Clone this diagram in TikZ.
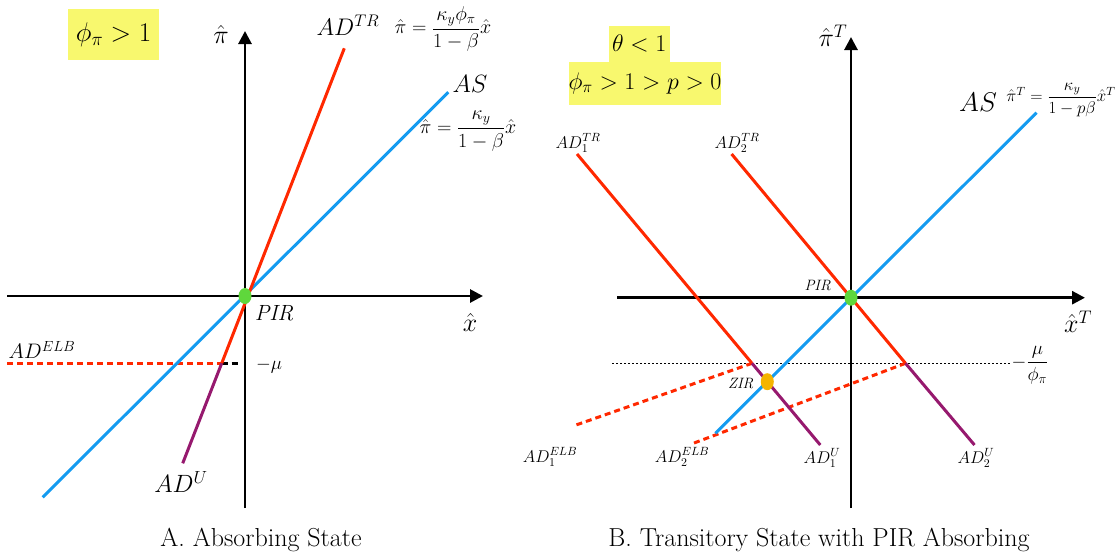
\RequirePackage{fix-cm}
\documentclass[tikz,border=0pt]{standalone}
\usepackage{amsmath}
\usetikzlibrary{arrows.meta}
\usetikzlibrary{positioning}

\definecolor{adred}{RGB}{255,40,0}
\definecolor{asblue}{RGB}{20,155,240}
\definecolor{adpurple}{RGB}{150,25,110}
\definecolor{pirgreen}{RGB}{95,215,60}
\definecolor{zirorange}{RGB}{245,180,0}
\definecolor{boxyellow}{RGB}{248,248,110}

\newcommand{\fsz}[1]{\fontsize{#1}{#1}\selectfont}

\tikzset{
  axis/.style={line width=2.8pt, -{Triangle[length=13pt, width=13pt]}},
  asline/.style={asblue, line width=3pt},
  trline/.style={adred, line width=3pt},
  uline/.style={adpurple, line width=3pt},
  elbline/.style={adred, line width=3pt, dash pattern=on 6pt off 4pt},
  mulevel/.style={line width=1pt, dash pattern=on 2pt off 2pt},
  lbl/.style={inner sep=0pt, font=\fsz{#1}},
  lbl/.default=24,
  ybox/.style={fill=boxyellow, inner sep=0pt, font=\fsz{#1}},
}

\begin{document}
\begin{tikzpicture}[x=1pt, y=-1pt]
\useasboundingbox (0,0) rectangle (1120,560);

% ---------- A. absorbing state ----------
\coordinate (pirA) at (245,296);
\coordinate (xAl) at (7,296);
\coordinate (xAr) at (483,296);
\coordinate (yAb) at (245,508);
\coordinate (yAt) at (245,31);

\draw[axis] (xAl) -- (xAr);
\draw[axis] (yAb) -- (yAt);

\coordinate (trTop) at (344.3,48.3);
\coordinate (trElb) at (221.7,363.3);
\coordinate (uBot) at (182.7,463.3);
\coordinate (asBot) at (42.7,497.3);
\coordinate (asTop) at (448.3,92.3);
\coordinate (elbL) at (7,363.3);
\coordinate (muA) at (238,363.3);

\draw[elbline] (elbL) -- (trElb);
\draw[line width=3pt, dash pattern=on 6pt off 4pt] (trElb) -- (muA);
\draw[asline] (asBot) -- (asTop);
\draw[trline] (trElb) -- (trTop);
\draw[uline] (trElb) -- (uBot);
\fill[pirgreen] (pirA) ellipse [x radius=6.5, y radius=8];

\node[ybox=27, minimum width=91pt, minimum height=51pt] (condA) at (113.5,34.5) {$\phi_\pi > 1$};
\node[lbl=26] (piA) at (221,34) {$\hat{\pi}$};
\node[lbl=26] (xA) at (470,322) {$\hat{x}$};
\node[lbl=22] (pirAlbl) at (274.5,313) {$\mathit{PIR}$};
\node[lbl] (trA) at (348,25) {$AD^{TR}$};
\node[lbl=20] (trAeq) at (443,29) {$\hat{\pi} = \dfrac{\kappa_y\phi_\pi}{1-\beta}\hat{x}$};
\node[lbl=25] (asA) at (470,84) {$AS$};
\node[lbl=20] (asAeq) at (468,131) {$\hat{\pi} = \dfrac{\kappa_y}{1-\beta}\hat{x}$};
\node[lbl=21] (elbA) at (42,350) {$AD^{ELB}$};
\node[lbl=19] (muAlbl) at (269,366) {$-\mu$};
\node[lbl=25] (uA) at (181,482) {$AD^{U}$};
\node[lbl=26] (capA) at (261,540) {A. Absorbing State};

% ---------- B. transitory state ----------
\coordinate (pirB) at (851,297.7);
\coordinate (zirB) at (767.3,381.7);
\coordinate (xBl) at (617,297.7);
\coordinate (xBr) at (1085,297.7);
\coordinate (yBb) at (851,508);
\coordinate (yBt) at (851,37);
\coordinate (muBl) at (612,363.3);
\coordinate (muBr) at (1010,363.3);

\draw[axis] (xBl) -- (xBr);
\draw[axis] (yBb) -- (yBt);
\draw[mulevel] (muBl) -- (muBr);

\coordinate (trOneTop) at (577,154);
\coordinate (trOneElb) at (752,363.3);
\coordinate (uOneBot) at (820.3,445);
\coordinate (elbOneEnd) at (576,425);
\coordinate (trTwoTop) at (731.6,154);
\coordinate (trTwoElb) at (905.5,363.3);
\coordinate (uTwoBot) at (974.5,445);
\coordinate (elbTwoEnd) at (693.3,443.3);
\coordinate (asBBot) at (715.5,433.3);
\coordinate (asBTop) at (1036.5,112.7);

\draw[elbline] (trOneElb) -- (elbOneEnd);
\draw[elbline] (trTwoElb) -- (elbTwoEnd);
\draw[asline] (asBBot) -- (asBTop);
\draw[trline] (trOneTop) -- (trOneElb);
\draw[uline] (trOneElb) -- (uOneBot);
\draw[trline] (trTwoTop) -- (trTwoElb);
\draw[uline] (trTwoElb) -- (uTwoBot);
\fill[pirgreen] (pirB) ellipse [x radius=6.5, y radius=8];
\fill[zirorange] (zirB) ellipse [x radius=6.5, y radius=8.5];

\node[ybox=24, minimum width=60.5pt, minimum height=36pt] (thetaB) at (639.25,43.85) {$\theta < 1$};
\node[ybox=24, minimum width=148pt, minimum height=43pt] (condB) at (645,83.2) {$\phi_\pi > 1 > p > 0$};
\node[lbl=26] (piB) at (833,36) {$\hat{\pi}^{T}$};
\node[lbl=26] (xB) at (1078,322) {$\hat{x}^{T}$};
\node[lbl=15] (pirBlbl) at (818,285) {$\mathit{PIR}$};
\node[lbl=15] (zirBlbl) at (741,383) {$\mathit{ZIR}$};
\node[lbl=27] (asB) at (978,102) {$AS$};
\node[lbl=17] (asBeq) at (1061,100) {$\hat{\pi}^{T} = \dfrac{\kappa_y}{1-p\beta}\hat{x}^{T}$};
\node[lbl=19] (muBlbl) at (1030,365) {$-\dfrac{\mu}{\phi_\pi}$};
\node[lbl=17] (trOne) at (578,143) {$AD_1^{TR}$};
\node[lbl=17] (trTwo) at (737,143) {$AD_2^{TR}$};
\node[lbl=17] (elbOne) at (550,457) {$AD_1^{ELB}$};
\node[lbl=17] (elbTwo) at (682,457) {$AD_2^{ELB}$};
\node[lbl=17] (uOne) at (822,458) {$AD_1^{U}$};
\node[lbl=17] (uTwo) at (976,458) {$AD_2^{U}$};
\node[lbl=26] (capB) at (819,540) {B. Transitory State with PIR Absorbing};

\end{tikzpicture}
\end{document}
